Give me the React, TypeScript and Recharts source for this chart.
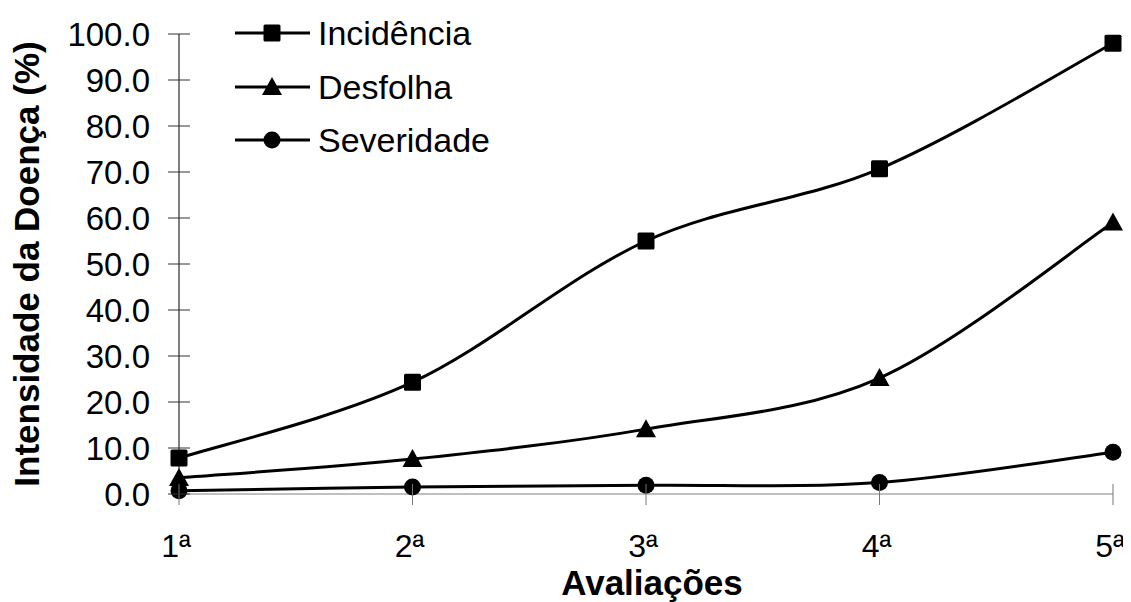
import { LineChart, Line, XAxis, YAxis, Legend, Label } from 'recharts';

const categories = ['1ª', '2ª', '3ª', '4ª', '5ª'];
const incidencia = [7.8, 24.3, 55.0, 70.7, 98.0];
const desfolha = [3.5, 7.6, 14.1, 25.2, 59.0];
const severidade = [0.7, 1.5, 1.9, 2.5, 9.1];
const yTicks = [0, 10, 20, 30, 40, 50, 60, 70, 80, 90, 100];

const seriesNames = ['Incidência', 'Desfolha', 'Severidade'];

const data = categories.map((c, i) => ({
  name: c,
  incidencia: incidencia[i],
  desfolha: desfolha[i],
  severidade: severidade[i],
}));

const FONT = '"Liberation Sans", Arial, sans-serif';
const W = 1123;
const H = 594;
const AXIS_X = 171;
const AXIS_Y = 486;

// excel-like smoothing (catmull-rom as bezier)
function smoothCurve(context: any) {
  let pts: number[][] = [];
  return {
    areaStart() {},
    areaEnd() {},
    lineStart() {
      pts = [];
    },
    lineEnd() {
      const n = pts.length;
      if (!n) return;
      context.moveTo(pts[0][0], pts[0][1]);
      for (let i = 0; i < n - 1; i++) {
        const p0 = pts[i - 1] || pts[i];
        const p1 = pts[i];
        const p2 = pts[i + 1];
        const p3 = pts[i + 2] || pts[i + 1];
        context.bezierCurveTo(
          p1[0] + (p2[0] - p0[0]) / 6,
          p1[1] + (p2[1] - p0[1]) / 6,
          p2[0] - (p3[0] - p1[0]) / 6,
          p2[1] - (p3[1] - p1[1]) / 6,
          p2[0],
          p2[1]
        );
      }
    },
    point(x: number, y: number) {
      pts.push([+x, +y]);
    },
  };
}

const Square = ({ cx, cy }: any) => <rect x={cx - 8.5} y={cy - 8.5} width={17} height={17} rx={1.5} fill="#000" />;
const Triangle = ({ cx, cy }: any) => (
  <polygon points={`${cx},${cy - 10} ${cx - 10},${cy + 8} ${cx + 10},${cy + 8}`} fill="#000" />
);
const Circle = ({ cx, cy }: any) => <circle cx={cx} cy={cy} r={8.5} fill="#000" />;
const markers = [Square, Triangle, Circle];

const YTick = (p: any) => (
  <g>
    <line x1={AXIS_X - 11} x2={AXIS_X + 11} y1={p.y} y2={p.y} stroke="#333" strokeWidth={1} />
    <text x={AXIS_X - 29} y={p.y} dy="0.36em" textAnchor="end" fontSize={33} fontFamily={FONT} fill="#000">
      {Number(p.payload.value).toFixed(1)}
    </text>
  </g>
);

const XTick = (p: any) => (
  <g>
    <line x1={p.x} x2={p.x} y1={AXIS_Y - 10} y2={AXIS_Y + 11} stroke="#777" strokeWidth={1} />
    <text x={p.x - 3} y={549} textAnchor="middle" fontSize={32} fontFamily={FONT} fill="#000">
      {p.payload.value}
    </text>
  </g>
);

const legendRows = [25, 79, 132];

const LegendContent = () => (
  <svg width={320} height={160}>
    {seriesNames.map((name, i) => {
      const cy = legendRows[i];
      const M = markers[i];
      return (
        <g key={name}>
          <line x1={0} x2={75} y1={cy} y2={cy} stroke="#000" strokeWidth={3} />
          <M cx={37} cy={cy} />
          <text x={83} y={cy} dy="0.36em" fontSize={34} fontFamily={FONT} fill="#000">
            {name}
          </text>
        </g>
      );
    })}
  </svg>
);

export default function App() {
  return (
    <div style={{ width: W, height: H, position: 'relative', background: '#fff' }}>
      <LineChart
        width={W}
        height={H}
        data={data}
        margin={{ top: 26, right: 18, left: 0, bottom: 0 }}
        style={{ overflow: 'visible' }}
      >
        <XAxis
          dataKey="name"
          height={108}
          interval={0}
          axisLine={{ stroke: '#808080', strokeWidth: 1 }}
          tickLine={false}
          tick={XTick}
        >
          <Label
            content={(p: any) => (
              <text
                x={p.viewBox.x + p.viewBox.width / 2 + 6}
                y={587}
                textAnchor="middle"
                fontSize={35}
                fontWeight="bold"
                fontFamily={FONT}
                fill="#000"
              >
                Avaliações
              </text>
            )}
          />
        </XAxis>
        <YAxis
          domain={[0, 100]}
          ticks={yTicks}
          interval={0}
          width={171}
          axisLine={{ stroke: '#000', strokeWidth: 1 }}
          tickLine={false}
          tick={YTick}
        >
          <Label
            content={(p: any) => {
              const cy = p.viewBox.y + p.viewBox.height / 2;
              return (
                <text
                  x={31}
                  y={cy}
                  transform={`rotate(-90 31 ${cy})`}
                  textAnchor="middle"
                  fontSize={35}
                  fontWeight="bold"
                  fontFamily={FONT}
                  fill="#000"
                >
                  Intensidade da Doença (%)
                </text>
              );
            }}
          />
        </YAxis>
        <Legend
          layout="vertical"
          align="center"
          verticalAlign="middle"
          wrapperStyle={{ position: 'absolute', left: 227, top: 0, width: 320, height: 160 }}
          content={LegendContent}
        />
        <Line
          dataKey="incidencia"
          name={seriesNames[0]}
          type={smoothCurve as any}
          stroke="#000"
          strokeWidth={3}
          dot={(p: any) => <Square key={p.index} cx={p.cx} cy={p.cy} />}
          activeDot={false}
          isAnimationActive={false}
        />
        <Line
          dataKey="desfolha"
          name={seriesNames[1]}
          type={smoothCurve as any}
          stroke="#000"
          strokeWidth={3}
          dot={(p: any) => <Triangle key={p.index} cx={p.cx} cy={p.cy} />}
          activeDot={false}
          isAnimationActive={false}
        />
        <Line
          dataKey="severidade"
          name={seriesNames[2]}
          type={smoothCurve as any}
          stroke="#000"
          strokeWidth={3}
          dot={(p: any) => <Circle key={p.index} cx={p.cx} cy={p.cy} />}
          activeDot={false}
          isAnimationActive={false}
        />
      </LineChart>
    </div>
  );
}
